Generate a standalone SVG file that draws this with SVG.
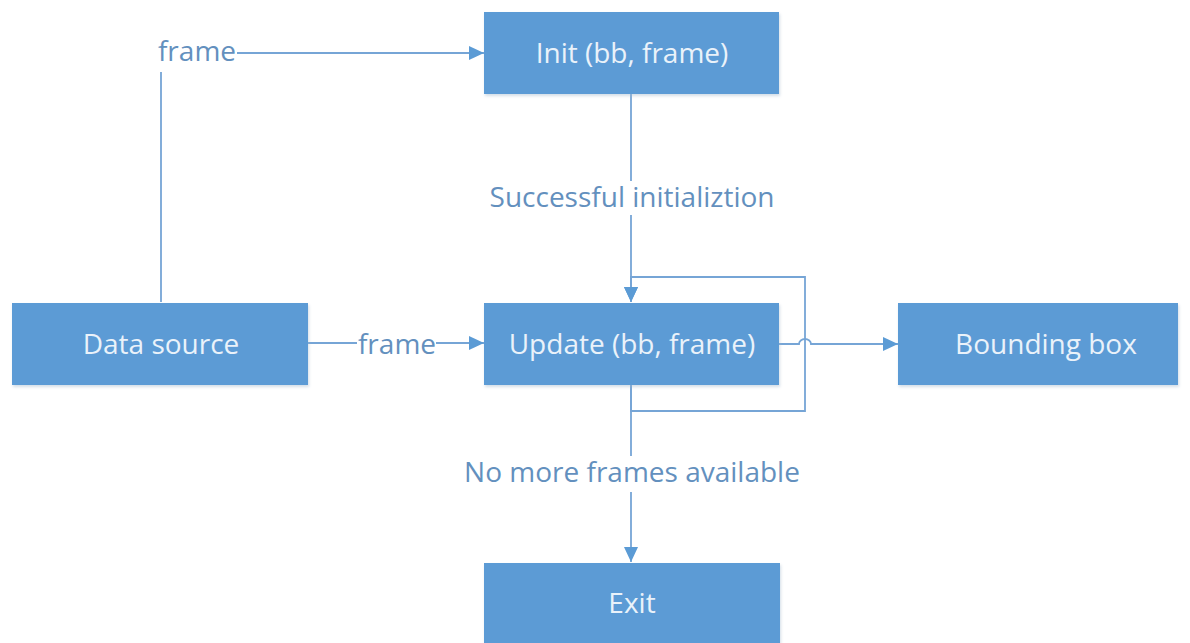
<svg xmlns="http://www.w3.org/2000/svg" width="1190" height="643" viewBox="0 0 1190 643">
  <style>
    .box { fill: #5b9bd5; filter: url(#shadow); }
    .box-text { font-family: "Open Sans", "Noto Sans", "Liberation Sans", sans-serif; font-size: 28px; fill: #eaf2fa; text-anchor: middle; }
    .edge { fill: none; stroke: #76a5d6; stroke-width: 1.8; }
    .edge-label { font-family: "Open Sans", "Noto Sans", "Liberation Sans", sans-serif; font-size: 28px; fill: #6390be; text-anchor: middle; }
    .label-bg { fill: #ffffff; }
  </style>
  <defs>
    <filter id="shadow" x="-5%" y="-10%" width="115%" height="130%">
      <feDropShadow dx="1" dy="2" stdDeviation="1.5" flood-color="#9fb6cc" flood-opacity="0.45"/>
    </filter>
    <marker id="arrow" markerUnits="userSpaceOnUse" markerWidth="16" markerHeight="16" viewBox="0 0 16 16" refX="15" refY="8" orient="auto">
      <path d="M0,1 L15,8 L0,15 Z" fill="#5b9bd5"/>
    </marker>
  </defs>

  <rect width="1190" height="643" fill="#ffffff"/>

  <!-- connectors -->
  <g id="connectors">
    <!-- data source up to init -->
    <path class="edge" d="M161,302 V53 H484" marker-end="url(#arrow)"/>
    <!-- data source to update -->
    <path class="edge" d="M308,343 H484" marker-end="url(#arrow)"/>
    <!-- init to update -->
    <path class="edge" d="M631,94 V302" marker-end="url(#arrow)"/>
    <!-- update self-loop -->
    <path class="edge" d="M631,385 V411 H805 V277 H631 V302" marker-end="url(#arrow)"/>
    <!-- update to bounding box, hopping over the loop line -->
    <path class="edge" d="M779,344 H799 A6,5 0 0 1 811,344 H898" marker-end="url(#arrow)"/>
    <!-- update to exit -->
    <path class="edge" d="M631,385 V562" marker-end="url(#arrow)"/>

    <!-- connector labels -->
    <rect class="label-bg" x="155" y="36" width="82" height="36"/>
    <text class="edge-label" x="197" y="61">frame</text>
    <rect class="label-bg" x="357" y="326" width="79" height="36"/>
    <text class="edge-label" x="397" y="354">frame</text>
    <rect class="label-bg" x="486" y="181" width="292" height="34"/>
    <text class="edge-label" x="632" y="207">Successful initializtion</text>
    <rect class="label-bg" x="464" y="456" width="336" height="36"/>
    <text class="edge-label" x="632" y="482">No more frames available</text>
  </g>

  <!-- nodes -->
  <g id="init">
    <rect class="box" x="484" y="12" width="295" height="82"/>
    <text class="box-text" x="632" y="63">Init (bb, frame)</text>
  </g>
  <g id="data-source">
    <rect class="box" x="12" y="303" width="296" height="82"/>
    <text class="box-text" x="161" y="354">Data source</text>
  </g>
  <g id="update">
    <rect class="box" x="484" y="303" width="295" height="82"/>
    <text class="box-text" x="632" y="354">Update (bb, frame)</text>
  </g>
  <g id="bounding-box">
    <rect class="box" x="898" y="303" width="280" height="82"/>
    <text class="box-text" x="1046" y="354">Bounding box</text>
  </g>
  <g id="exit">
    <rect class="box" x="484" y="563" width="296" height="90"/>
    <text class="box-text" x="632" y="613">Exit</text>
  </g>
</svg>
